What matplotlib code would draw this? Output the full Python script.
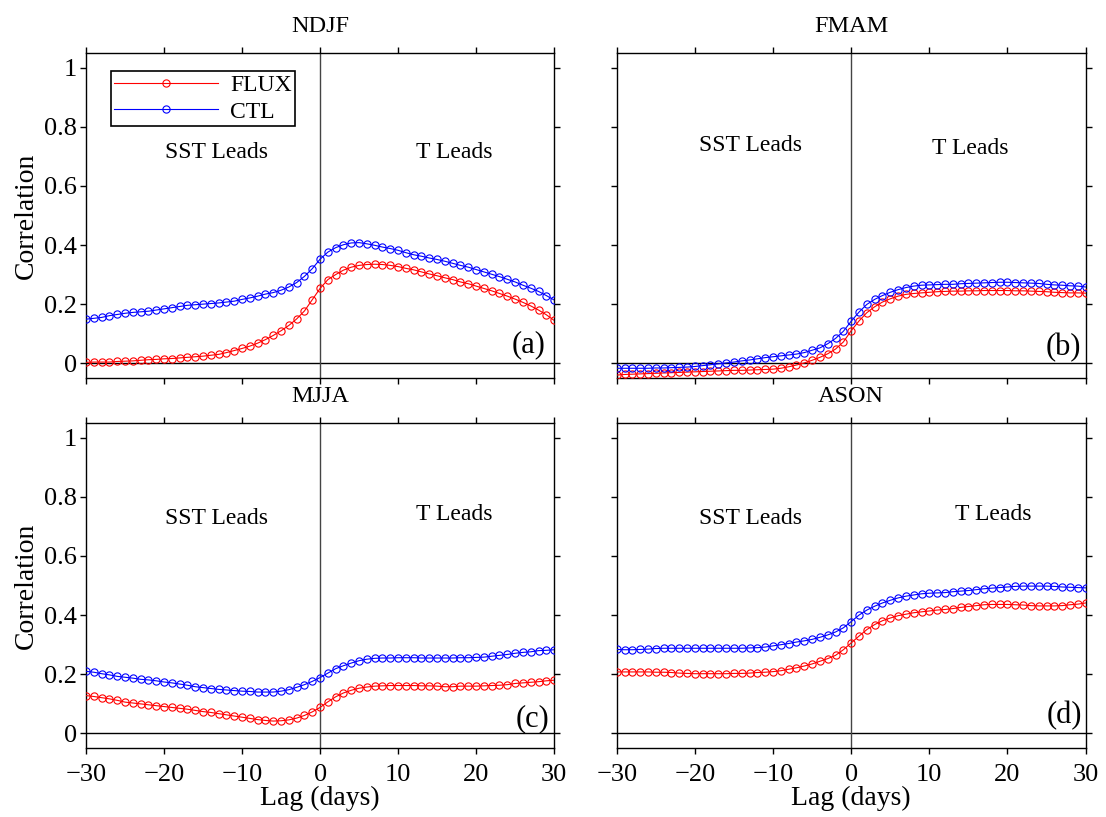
import matplotlib
matplotlib.use("Agg")
import matplotlib.pyplot as plt
from matplotlib.ticker import FuncFormatter

plt.rcParams["font.family"] = ["Liberation Serif", "DejaVu Serif"]
plt.rcParams["axes.unicode_minus"] = True

lags = list(range(-30, 31))

seasons = ["NDJF", "FMAM", "MJJA", "ASON"]
panel_tags = ["(a)", "(b)", "(c)", "(d)"]

# lag correlations, lag -30 .. 30 days
ndjf_flux = [0.003, 0.004, 0.004, 0.004, 0.006, 0.007, 0.008, 0.010, 0.012, 0.013,
             0.015, 0.016, 0.018, 0.020, 0.022, 0.024, 0.027, 0.030, 0.036, 0.043,
             0.050, 0.058, 0.068, 0.080, 0.094, 0.110, 0.128, 0.150, 0.177, 0.215,
             0.253,
             0.283, 0.300, 0.315, 0.325, 0.331, 0.334, 0.335, 0.334, 0.331, 0.327,
             0.321, 0.316, 0.309, 0.302, 0.296, 0.289, 0.283, 0.275, 0.269, 0.261,
             0.253, 0.245, 0.236, 0.227, 0.217, 0.206, 0.194, 0.180, 0.164, 0.145]
ndjf_ctl = [0.149, 0.152, 0.155, 0.161, 0.165, 0.169, 0.172, 0.174, 0.176, 0.180,
            0.184, 0.188, 0.192, 0.196, 0.198, 0.200, 0.202, 0.204, 0.207, 0.210,
            0.216, 0.221, 0.227, 0.234, 0.239, 0.247, 0.258, 0.273, 0.294, 0.320,
            0.352,
            0.376, 0.391, 0.401, 0.407, 0.408, 0.404, 0.399, 0.393, 0.388, 0.382,
            0.374, 0.367, 0.362, 0.356, 0.351, 0.345, 0.338, 0.331, 0.325, 0.317,
            0.309, 0.301, 0.293, 0.284, 0.275, 0.264, 0.254, 0.243, 0.229, 0.214]

fmam_flux = [-0.040, -0.038, -0.037, -0.036, -0.035, -0.034, -0.033, -0.032, -0.031, -0.030,
             -0.029, -0.028, -0.027, -0.026, -0.025, -0.024, -0.024, -0.023, -0.022, -0.021,
             -0.020, -0.017, -0.012, -0.006, 0.001, 0.010, 0.020, 0.032, 0.048, 0.072,
             0.110,
             0.143, 0.171, 0.191, 0.207, 0.218, 0.227, 0.233, 0.236, 0.238, 0.240,
             0.242, 0.243, 0.244, 0.244, 0.245, 0.245, 0.246, 0.246, 0.246, 0.246,
             0.245, 0.245, 0.244, 0.243, 0.242, 0.240, 0.239, 0.238, 0.238, 0.237]
fmam_ctl = [-0.017, -0.017, -0.017, -0.017, -0.017, -0.016, -0.016, -0.015, -0.014, -0.013,
            -0.011, -0.008, -0.005, -0.002, 0.001, 0.004, 0.008, 0.011, 0.015, 0.019,
            0.022, 0.025, 0.028, 0.031, 0.036, 0.044, 0.052, 0.066, 0.084, 0.108,
            0.142,
            0.173, 0.199, 0.216, 0.229, 0.240, 0.249, 0.256, 0.261, 0.264, 0.265,
            0.266, 0.267, 0.267, 0.269, 0.270, 0.271, 0.272, 0.273, 0.274, 0.274,
            0.273, 0.272, 0.271, 0.270, 0.267, 0.265, 0.264, 0.262, 0.261, 0.258]

mjja_flux = [0.128, 0.125, 0.121, 0.117, 0.112, 0.106, 0.103, 0.100, 0.097, 0.094,
             0.091, 0.088, 0.085, 0.082, 0.078, 0.074, 0.071, 0.067, 0.063, 0.059,
             0.055, 0.051, 0.047, 0.044, 0.042, 0.043, 0.046, 0.052, 0.061, 0.073,
             0.088,
             0.107, 0.124, 0.137, 0.146, 0.153, 0.157, 0.160, 0.161, 0.162, 0.162,
             0.162, 0.162, 0.161, 0.161, 0.160, 0.158, 0.158, 0.160, 0.160, 0.160,
             0.161, 0.162, 0.163, 0.165, 0.169, 0.171, 0.173, 0.175, 0.178, 0.180]
mjja_ctl = [0.210, 0.207, 0.202, 0.198, 0.193, 0.190, 0.187, 0.183, 0.181, 0.178,
            0.174, 0.171, 0.167, 0.163, 0.158, 0.155, 0.152, 0.149, 0.147, 0.145,
            0.143, 0.142, 0.140, 0.140, 0.140, 0.143, 0.148, 0.156, 0.165, 0.176,
            0.189,
            0.204, 0.219, 0.229, 0.238, 0.246, 0.251, 0.254, 0.255, 0.255, 0.256,
            0.256, 0.256, 0.255, 0.255, 0.255, 0.255, 0.255, 0.256, 0.256, 0.257,
            0.258, 0.261, 0.264, 0.267, 0.271, 0.274, 0.276, 0.280, 0.281, 0.283]

ason_flux = [0.208, 0.208, 0.208, 0.208, 0.208, 0.207, 0.207, 0.206, 0.204, 0.203,
             0.202, 0.202, 0.202, 0.202, 0.202, 0.203, 0.203, 0.204, 0.206, 0.207,
             0.209, 0.212, 0.217, 0.222, 0.228, 0.235, 0.244, 0.253, 0.264, 0.283,
             0.306,
             0.329, 0.351, 0.368, 0.381, 0.390, 0.398, 0.403, 0.408, 0.411, 0.414,
             0.417, 0.419, 0.422, 0.426, 0.429, 0.432, 0.435, 0.436, 0.436, 0.436,
             0.435, 0.434, 0.432, 0.431, 0.431, 0.431, 0.432, 0.435, 0.437, 0.441]
ason_ctl = [0.284, 0.283, 0.283, 0.284, 0.285, 0.287, 0.288, 0.288, 0.288, 0.288,
            0.288, 0.288, 0.288, 0.288, 0.288, 0.288, 0.288, 0.289, 0.290, 0.292,
            0.296, 0.300, 0.304, 0.309, 0.313, 0.318, 0.325, 0.333, 0.343, 0.357,
            0.378,
            0.400, 0.417, 0.430, 0.441, 0.450, 0.458, 0.464, 0.468, 0.472, 0.474,
            0.475, 0.476, 0.479, 0.481, 0.483, 0.486, 0.489, 0.491, 0.493, 0.495,
            0.497, 0.498, 0.498, 0.498, 0.498, 0.497, 0.495, 0.494, 0.493, 0.492]

flux_series = [ndjf_flux, fmam_flux, mjja_flux, ason_flux]
ctl_series = [ndjf_ctl, fmam_ctl, mjja_ctl, ason_ctl]

# text placement (lag, correlation) for the lead annotations and panel tags
sst_pos = [(-13.3, 0.713), (-12.9, 0.738), (-13.3, 0.728), (-12.9, 0.728)]
t_pos = [(17.2, 0.713), (15.2, 0.725), (17.2, 0.739), (18.2, 0.739)]
tag_pos = [(26.7, 0.062), (27.1, 0.052), (27.2, 0.050), (27.3, 0.062)]

fig = plt.figure(figsize=(11.06, 8.17), dpi=100)
boxes = [
    [0.0778, 0.5373, 0.4232, 0.398],
    [0.5576, 0.5373, 0.4240, 0.398],
    [0.0778, 0.0841, 0.4232, 0.3985],
    [0.5576, 0.0841, 0.4240, 0.3985],
]

for i, box in enumerate(boxes):
    ax = fig.add_axes(box)
    ax.axhline(0, color="black", lw=1.0, zorder=1)
    ax.axvline(0, color="#444444", lw=1.0, zorder=1)

    ax.plot(lags, flux_series[i], color="red", lw=0.8, marker="o", ms=5.2,
            mfc="none", mew=0.8, label="FLUX", zorder=3)
    ax.plot(lags, ctl_series[i], color="blue", lw=0.8, marker="o", ms=5.2,
            mfc="none", mew=0.8, label="CTL", zorder=3)

    ax.set_xlim(-30, 30)
    ax.set_ylim(-0.05, 1.05)
    ax.set_xticks(range(-30, 31, 10))
    ax.set_yticks([0, 0.2, 0.4, 0.6, 0.8, 1.0])
    ax.yaxis.set_major_formatter(FuncFormatter(lambda v, p: f"{v:g}"))
    ax.tick_params(direction="out", length=4.3, width=1, top=True, right=True,
                   labelsize=19)
    ax.tick_params(axis="y", pad=2)
    ax.tick_params(axis="x", pad=7)
    for sp in ax.spines.values():
        sp.set_linewidth(1.0)

    ax.text(0.5, 1.0645, seasons[i], transform=ax.transAxes, ha="center",
            va="baseline", fontsize=17.5)
    ax.text(*sst_pos[i], "SST Leads", ha="center", va="center", fontsize=17)
    ax.text(*t_pos[i], "T Leads", ha="center", va="center", fontsize=17)
    ax.text(*tag_pos[i], panel_tags[i], ha="center", va="center", fontsize=22)

    if i % 2 == 0:
        ax.set_ylabel("Correlation", fontsize=20, labelpad=4)
    else:
        ax.tick_params(labelleft=False)
    if i < 2:
        ax.tick_params(labelbottom=False)
    else:
        ax.set_xlabel("Lag (days)", fontsize=20, labelpad=0)

    if i == 0:
        leg = ax.legend(loc="upper left", bbox_to_anchor=(0.0528, 0.943),
                        borderaxespad=0, fontsize=17, numpoints=1,
                        handlelength=4.4, handletextpad=0.5, labelspacing=0.2,
                        borderpad=0.15, fancybox=False, framealpha=1,
                        edgecolor="black")
        leg.get_frame().set_linewidth(1.2)

fig.savefig("out.png", dpi=100)
